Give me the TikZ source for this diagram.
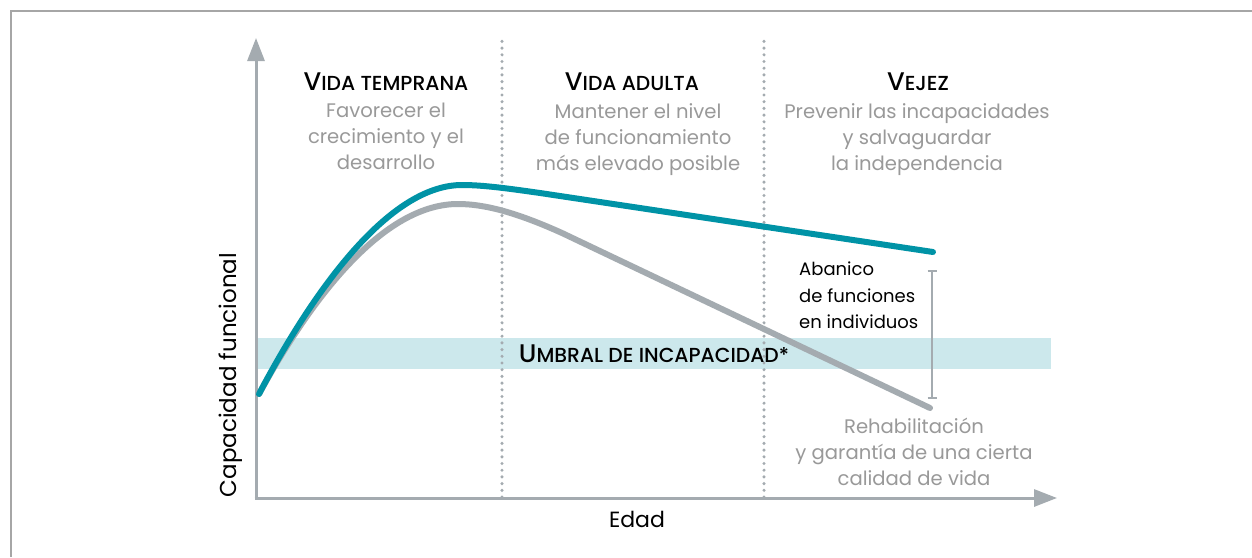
\documentclass[tikz,border=0pt]{standalone}
\usepackage{fontspec}
\setmainfont{Poppins}
\newfontfamily\hfont{Poppins Medium}
\usetikzlibrary{arrows.meta}
\definecolor{teal1}{HTML}{0093A6}
\definecolor{axisgray}{HTML}{A4ABB0}
\definecolor{txtgray}{HTML}{999999}
\definecolor{bandcol}{HTML}{CCE8EC}
\definecolor{framecol}{HTML}{A6A6A6}
\newcommand{\hdr}[2]{{\hfont\fontsize{25.5}{25.5}\selectfont #1}{\hfont\fontsize{20.3}{20.3}\selectfont #2}}
\tikzset{
  axisline/.style={draw=axisgray, line width=3pt, -{Triangle[length=23pt,width=17pt]}},
  dotline/.style={draw=axisgray, line width=3.4pt, line cap=round, dash pattern=on 0pt off 6.7pt},
  curveteal/.style={draw=teal1, line width=6pt, line cap=round},
  curvegray/.style={draw=axisgray, line width=6pt, line cap=round},
  head/.style={text=black, anchor=center, inner sep=0pt},
  sub/.style={text=txtgray, align=center, anchor=north, inner sep=0pt, font=\fontsize{19.6}{26}\selectfont},
}
\begin{document}
\begin{tikzpicture}[x=1pt, y=-1pt]
\useasboundingbox (0,0) rectangle (1252,557);
\fill[white] (0,0) rectangle (1252,557);
% frame
\draw[framecol, line width=2pt] (11,557) -- (11,11) -- (1252,11);
% band
\fill[bandcol] (257,338) rectangle (1051,369);
% dotted separators
\coordinate (d1t) at (502,37); \coordinate (d1b) at (502,497);
\coordinate (d2t) at (764,37); \coordinate (d2b) at (764,497);
\draw[dotline] (d1b) -- (d1t);
\draw[dotline] (d2b) -- (d2t);
% axes
\coordinate (O) at (256,498);
\coordinate (Ytop) at (256,38);
\coordinate (Xend) at (1057,498);
\draw[axisline, line cap=butt] (256,499.5) -- (Ytop);
\draw[axisline] (254.5,498) -- (Xend);
% curves
\draw[curvegray] (259,394) .. controls (318,286) and (388,204) .. (458,204)
   .. controls (488,204) and (522,215) .. (562,233) -- (930,408);
\draw[curveteal] (259,394) .. controls (318,282) and (392,185) .. (462,185)
   .. controls (482,185) and (505,188) .. (540,193) -- (933,252);
% range bar
\draw[axisgray, line width=1.5pt] (932,271) -- (932,398);
\draw[axisgray, line width=1.5pt] (927.5,271) -- (936.5,271);
\draw[axisgray, line width=1.5pt] (927.5,398) -- (936.5,398);
% headers
\node[head] (h1) at (386,82) {\hdr{V}{IDA TEMPRANA}};
\node[head] (h2) at (632,82) {\hdr{V}{IDA ADULTA}};
\node[head] (h3) at (918,82) {\hdr{V}{EJEZ}};
\node[sub] (s1) at (386,103) {Favorecer el\\crecimiento y el\\desarrollo};
\node[sub] (s2) at (638,103) {Mantener el nivel\\de funcionamiento\\más elevado posible};
\node[sub] (s3) at (917,103) {Prevenir las incapacidades\\y salvaguardar\\la independencia};
% threshold label
\node[head] (umb) at (654,354) {\hdr{U}{MBRAL DE INCAPACIDAD*}};
% fan label
\node[text=black, align=left, anchor=north west, inner sep=0pt, font=\fontsize{18}{26.5}\selectfont] (fan) at (799,262) {Abanico\\de funciones\\en individuos};
% rehab label
\node[sub] (reh) at (914,418) {Rehabilitación\\y garantía de una cierta\\calidad de vida};
% axis labels
\node[text=black, rotate=90, inner sep=0pt, font=\fontsize{23}{23}\selectfont] (ylab) at (231,375) {Capacidad funcional};
\node[text=black, inner sep=0pt, font=\fontsize{22}{22}\selectfont] (xlab) at (637,519) {Edad};
\end{tikzpicture}
\end{document}
